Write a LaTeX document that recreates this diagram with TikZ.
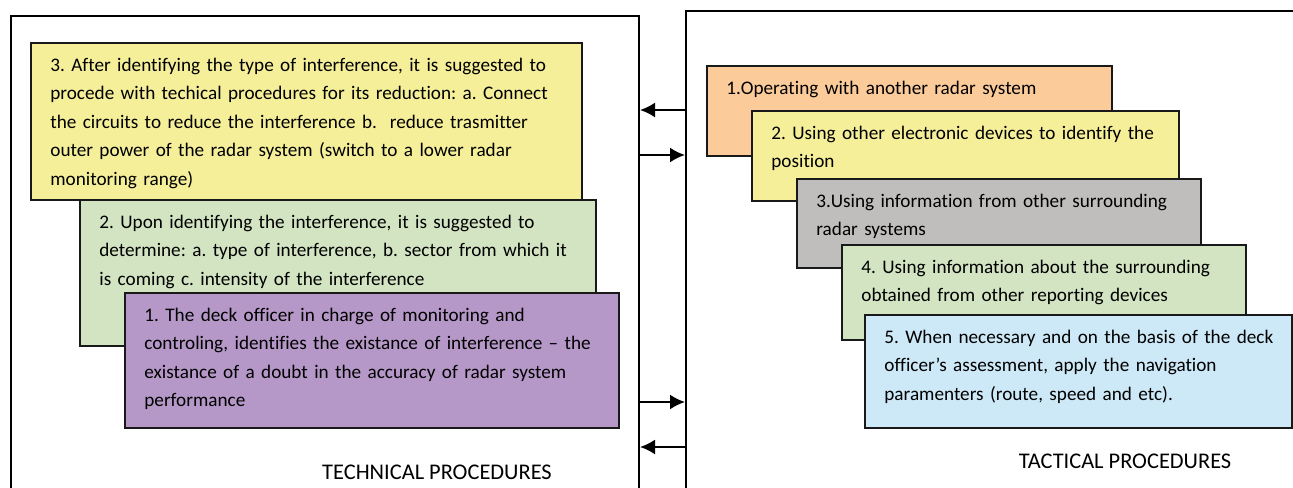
\documentclass[tikz,border=0pt]{standalone}
\usepackage{fontspec}
\setmainfont{Carlito}[Ligatures={TeX,NoCommon}]
\usepackage{tikz}
\usetikzlibrary{shapes,arrows.meta}
\definecolor{techyellow}{HTML}{F5EF99}
\definecolor{techgreen}{HTML}{D2E4C2}
\definecolor{techpurple}{HTML}{B698C8}
\definecolor{tactorange}{HTML}{FBCB9A}
\definecolor{tactgray}{HTML}{BFBEBD}
\definecolor{tactblue}{HTML}{CDE8F6}
\frenchspacing

\begin{document}
\begin{tikzpicture}[x=0.5pt,y=-0.5pt,
   panel/.style={draw, line width=1pt, inner sep=0pt, anchor=north west},
   stage/.style={draw=black!90, line width=1pt, inner sep=0pt, anchor=north west},
   stagetext/.style={anchor=base west, xshift=10pt, yshift=-14.5pt, inner sep=0pt, align=left, text width=300pt, font=\fontsize{9.6}{14.25}\selectfont},
   title/.style={anchor=base, inner sep=0pt, font=\fontsize{11.2}{13}\selectfont},
   flow/.style={line width=1pt, -{Latex[length=7.5pt,width=7.5pt]}}]
   \useasboundingbox (0,0) rectangle (1293,487);
   \clip (0,0) rectangle (1293,487);
   \node[panel, minimum width=314pt, minimum height=252.5pt] (tech) at (10,15) {};
   \node[panel, minimum width=317.5pt, minimum height=255pt] (tact) at (685,10) {};
   % technical side
   \node[stage, fill=techyellow, minimum width=275.5pt, minimum height=78.5pt] (tec3) at (30,42) {};
   \node[stagetext] (tec3txt) at (tec3.north west) {3. After identifying the type of interference, it is suggested to\\procede with techical procedures for its reduction: a. Connect\\the circuits to reduce the interference b.~ reduce trasmitter\\outer power of the radar system (switch to a lower radar\\monitoring range)};
   \node[stage, fill=techgreen, minimum width=258pt, minimum height=73pt] (tec2) at (79,199) {};
   \node[stagetext] (tec2txt) at (tec2.north west) {2. Upon identifying the interference, it is suggested to\\determine: a. type of interference, b. sector from which it\\is coming c. intensity of the interference};
   \node[stage, fill=techpurple, minimum width=247pt, minimum height=67.5pt] (tec1) at (124,292) {};
   \node[stagetext] (tec1txt) at (tec1.north west) {1. The deck officer in charge of monitoring and\\controling, identifies the existance of interference -- the\\existance of a doubt in the accuracy of radar system\\performance};
   % tactical side
   \node[stage, fill=tactorange, minimum width=202.5pt, minimum height=45pt] (tac1) at (706,65) {};
   \node[stagetext] (tac1txt) at (tac1.north west) {1.Operating with another radar system};
   \node[stage, fill=techyellow, minimum width=213.5pt, minimum height=45pt] (tac2) at (751,110) {};
   \node[stagetext] (tac2txt) at (tac2.north west) {2. Using other electronic devices to identify the\\position};
   \node[stage, fill=tactgray, minimum width=202pt, minimum height=44.5pt] (tac3) at (796,178) {};
   \node[stagetext] (tac3txt) at (tac3.north west) {3.Using information from other surrounding\\radar systems};
   \node[stage, fill=techgreen, minimum width=202pt, minimum height=47.5pt] (tac4) at (841,244) {};
   \node[stagetext] (tac4txt) at (tac4.north west) {4. Using information about the surrounding\\obtained from other reporting devices};
   \node[stage, fill=tactblue, minimum width=213.5pt, minimum height=56.5pt] (tac5) at (864,314) {};
   \node[stagetext] (tac5txt) at (tac5.north west) {5. When necessary and on the basis of the deck\\officer's assessment, apply the navigation\\paramenters (route, speed and etc).};
   % links between the two panels
   \coordinate (lvl1) at (0,110);
   \coordinate (lvl2) at (0,155);
   \coordinate (lvl3) at (0,402);
   \coordinate (lvl4) at (0,447);
   \draw[flow] (tact.west |- lvl1) -- (tech.east |- lvl1);
   \draw[flow] (tech.east |- lvl2) -- (tact.west |- lvl2);
   \draw[flow] (tech.east |- lvl3) -- (tact.west |- lvl3);
   \draw[flow] (tact.west |- lvl4) -- (tech.east |- lvl4);
   \node[title] (techlbl) at (437,479) {TECHNICAL PROCEDURES};
   \node[title] (tactlbl) at (1125,468) {TACTICAL PROCEDURES};
\end{tikzpicture}
\end{document}
